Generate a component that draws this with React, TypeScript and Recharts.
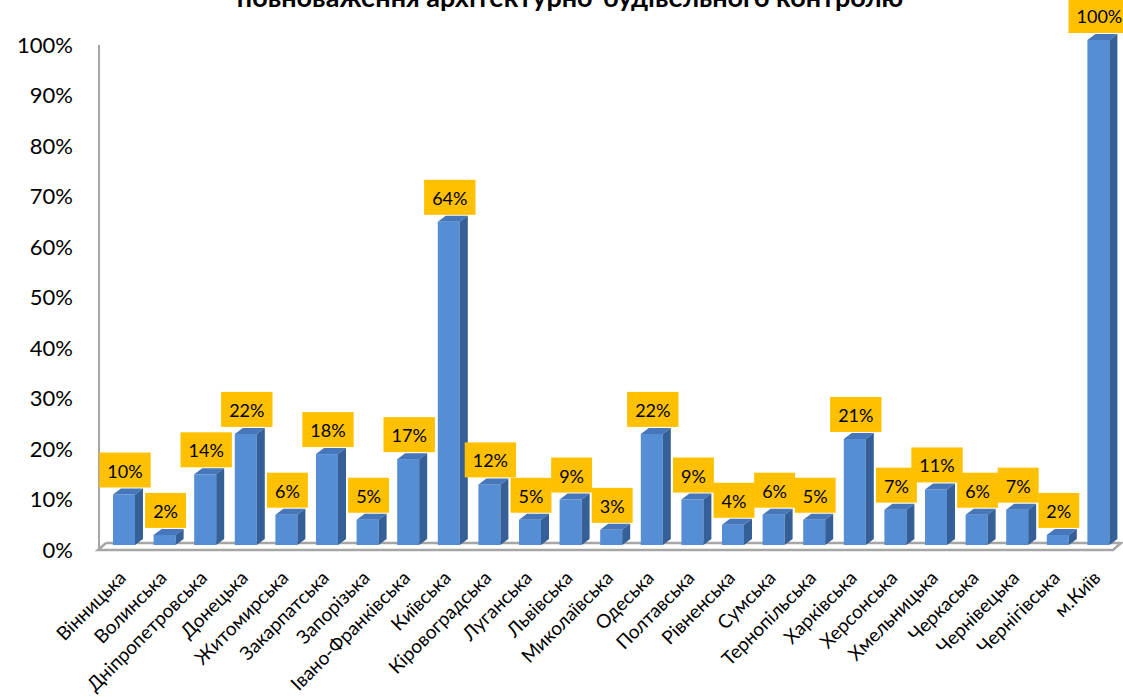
import { Bar, BarChart, Customized, LabelList, XAxis, YAxis } from 'recharts';

const regions = [
    'Вінницька', 'Волинська', 'Дніпропетровська', 'Донецька', 'Житомирська', 'Закарпатська',
    'Запорізька', 'Івано-Франківська', 'Київська', 'Кіровоградська', 'Луганська', 'Львівська',
    'Миколаївська', 'Одеська', 'Полтавська', 'Рівненська', 'Сумська', 'Тернопільська',
    'Харківська', 'Херсонська', 'Хмельницька', 'Черкаська', 'Чернівецька', 'Чернігівська', 'м.Київ',
];
const shares = [10, 2, 14, 22, 6, 18, 5, 17, 64, 12, 5, 9, 3, 22, 9, 4, 6, 5, 21, 7, 11, 6, 7, 2, 100];
const yTicks = [0, 10, 20, 30, 40, 50, 60, 70, 80, 90, 100];
const title = 'повноваження архітектурно-будівельного контролю';

const data = regions.map((name, i) => ({ name, value: shares[i] }));

const FONT = 'Lato, "Open Sans", sans-serif';
const DX = 8; // depth of the 3d effect
const DY = 6;
const SHIFT = 6;

function Bar3D(props: any) {
    const { x, y, width, height } = props;
    const fx = x + SHIFT;
    return (
        <g>
            <rect x={fx} y={y} width={width} height={height} fill="#558ED5" />
            <polygon
                points={`${fx},${y} ${fx + DX},${y - DY} ${fx + width + DX},${y - DY} ${fx + width},${y}`}
                fill="#4677BA"
            />
            <polygon
                points={`${fx + width},${y} ${fx + width + DX},${y - DY} ${fx + width + DX},${y + height - DY} ${fx + width},${y + height}`}
                fill="#355F97"
            />
        </g>
    );
}

function ValueLabel(props: any) {
    const { x, y, width, value } = props;
    const txt = `${value}%`;
    const tw = String(value).length * 0.58 * 18 + 0.86 * 18;
    const bw = tw + 15;
    const cx = x + SHIFT + width / 2 + 1;
    const bottom = y - DY - 1;
    return (
        <g>
            <rect x={cx - bw / 2} y={bottom - 35} width={bw} height={35} fill="#FFC000" />
            <text x={cx} y={bottom - 17} textAnchor="middle" dominantBaseline="central" fontSize={18} fontFamily={FONT} fill="#000">
                {txt}
            </text>
        </g>
    );
}

function XTick(props: any) {
    const { x, y, payload } = props;
    return (
        <g transform={`translate(${x + 9},${y + 26})`}>
            <text transform="rotate(-45)" textAnchor="end" fontSize={19} fontFamily={FONT} fill="#000">
                {payload.value}
            </text>
        </g>
    );
}

function YTick(props: any) {
    const { x, y, payload } = props;
    return (
        <text x={x - 17} y={y + 4} textAnchor="end" dominantBaseline="central" fontSize={22} fontFamily={FONT} fill="#000">
            {payload.value}%
        </text>
    );
}

function Decor() {
    // wall edge and floor of the 3d plot
    return (
        <g>
            <text x={570} y={7} textAnchor="middle" fontSize={27} fontWeight="bold" fontFamily={FONT} fill="#000">
                {title}
            </text>
            <line x1={99} y1={45} x2={99} y2={548} stroke="#A6A6A6" strokeWidth={2} />
            <polyline
                points="106,543 1121,543 1113,550 98,550 106,543"
                fill="none"
                stroke="#A6A6A6"
                strokeWidth={2.5}
            />
        </g>
    );
}

export default function App() {
    return (
        <div style={{ position: 'absolute', left: 0, top: 0, background: '#fff' }}>
            <BarChart
                width={1123}
                height={697}
                data={data}
                margin={{ top: 40, right: 10, bottom: 0, left: 0 }}
            >
                <Customized component={<Decor />} />
                <XAxis dataKey="name" interval={0} height={152} axisLine={false} tickLine={false} tick={<XTick />} />
                <YAxis
                    width={98}
                    domain={[0, 100]}
                    ticks={yTicks}
                    axisLine={false}
                    tickLine={false}
                    tick={<YTick />}
                />
                <Bar dataKey="value" barSize={22} shape={<Bar3D />} isAnimationActive={false}>
                    <LabelList dataKey="value" content={<ValueLabel />} />
                </Bar>
            </BarChart>
        </div>
    );
}
